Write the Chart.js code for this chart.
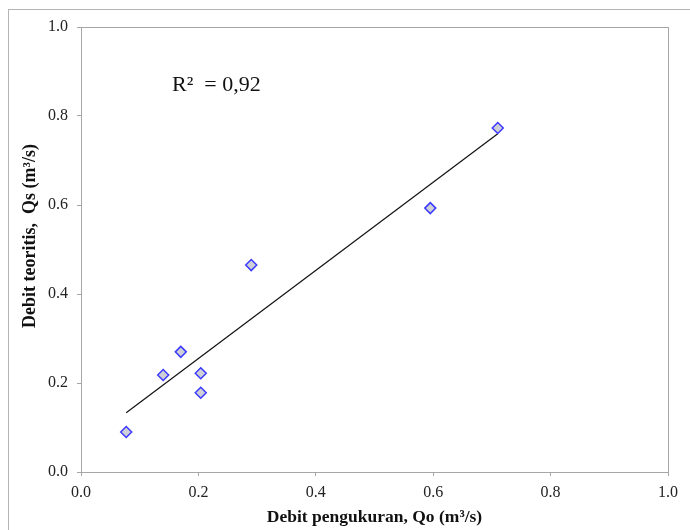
<!DOCTYPE html>
<html>
<head>
<meta charset="utf-8">
<script src="https://cdn.jsdelivr.net/npm/chart.js@4/dist/chart.umd.min.js"></script>
<style>
  html, body { margin: 0; padding: 0; background: #fff; }
  #wrap { width: 690px; height: 530px; position: relative; }
</style>
</head>
<body>
<div id="wrap"><canvas id="chart"></canvas></div>
<script>
// measured discharge Qo vs theoretical discharge Qs (m3/s)
const qo = [0.077, 0.140, 0.170, 0.204, 0.204, 0.290, 0.595, 0.710];
const qs = [0.090, 0.218, 0.270, 0.222, 0.178, 0.465, 0.593, 0.773];
// trend line end points
const trendX = [0.077, 0.710];
const trendY = [0.133, 0.760];
const axisTicks = [0, 0.2, 0.4, 0.6, 0.8, 1.0];
const r2Label = 'R²  = 0,92';
const yTitle = 'Debit teoritis,  Qs (m³/s)';

const serif = "'Liberation Serif', 'DejaVu Serif', serif";

const framePlugin = {
    id: 'frame',
    beforeDraw(chart) {
        const ctx = chart.ctx;
        ctx.save();
        ctx.strokeStyle = '#b4b4b4';
        ctx.lineWidth = 1;
        ctx.strokeRect(8.5, 9.5, 700, 540);
        ctx.restore();
    },
    beforeDatasetsDraw(chart) {
        const a = chart.chartArea;
        const ctx = chart.ctx;
        ctx.save();
        ctx.strokeStyle = '#a6a6a6';
        ctx.lineWidth = 1;
        ctx.strokeRect(Math.round(a.left) + 0.5, Math.round(a.top) + 0.5,
            Math.round(a.right - a.left), Math.round(a.bottom - a.top));
        ctx.restore();
    },
    afterDraw(chart) {
        const ctx = chart.ctx;
        const x = chart.scales.x.getPixelForValue(0.155);
        const y = chart.scales.y.getPixelForValue(0.87);
        ctx.save();
        ctx.fillStyle = '#111';
        ctx.font = '22px ' + serif;
        ctx.textBaseline = 'middle';
        ctx.fillText(r2Label, x, y);
        // y axis title, a little above the middle as in the original
        ctx.translate(30, 236);
        ctx.rotate(-Math.PI / 2);
        ctx.font = 'bold 18px ' + serif;
        ctx.textAlign = 'center';
        ctx.fillText(yTitle, 0, 0);
        ctx.restore();
    }
};

new Chart(document.getElementById('chart'), {
    type: 'scatter',
    data: {
        datasets: [{
            label: 'Qs',
            data: qo.map((v, i) => ({ x: v, y: qs[i] })),
            pointStyle: 'rectRot',
            pointRadius: 5.5,
            pointHoverRadius: 5.5,
            backgroundColor: '#cfcfd6',
            borderColor: '#3b3bff',
            borderWidth: 1.5
        }, {
            label: 'trend',
            type: 'line',
            data: trendX.map((v, i) => ({ x: v, y: trendY[i] })),
            borderColor: '#111',
            borderWidth: 1.2,
            pointRadius: 0,
            fill: false,
            order: 1
        }]
    },
    plugins: [framePlugin],
    options: {
        responsive: true,
        maintainAspectRatio: false,
        animation: false,
        layout: { padding: { top: 27, right: 22, left: 0, bottom: 0 } },
        plugins: {
            legend: { display: false },
            tooltip: { enabled: false }
        },
        scales: {
            x: {
                type: 'linear',
                min: 0, max: 1,
                afterFit(s) { s.height = 58; },
                afterBuildTicks(s) { s.ticks = axisTicks.map(v => ({ value: v })); },
                grid: { drawOnChartArea: false, tickLength: 4, color: '#a6a6a6' },
                border: { color: '#a6a6a6' },
                ticks: {
                    color: '#222',
                    padding: 7,
                    maxRotation: 0,
                    font: { family: serif, size: 16 },
                    callback: v => v.toFixed(1)
                },
                title: {
                    display: true,
                    text: 'Debit pengukuran, Qo (m³/s)',
                    color: '#111',
                    font: { family: serif, size: 17.5, weight: 'bold' },
                    padding: { top: 0, bottom: 2 }
                }
            },
            y: {
                type: 'linear',
                min: 0, max: 1,
                afterFit(s) { s.width = 81; },
                afterBuildTicks(s) { s.ticks = axisTicks.map(v => ({ value: v })); },
                grid: { drawOnChartArea: false, tickLength: 4, color: '#a6a6a6' },
                border: { color: '#a6a6a6' },
                ticks: {
                    color: '#222',
                    padding: 9,
                    font: { family: serif, size: 16 },
                    callback: v => v.toFixed(1)
                }
            }
        }
    }
});
</script>
</body>
</html>
